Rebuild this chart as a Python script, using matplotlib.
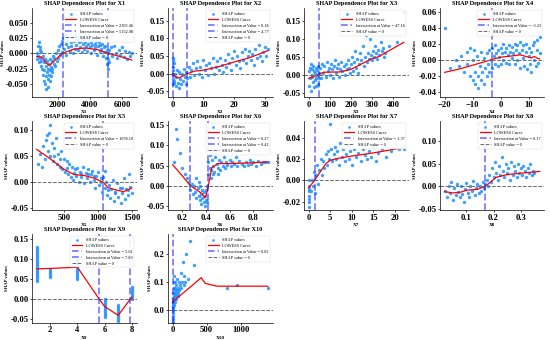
import numpy as np
import matplotlib
matplotlib.use("Agg")
import matplotlib.pyplot as plt
from matplotlib.ticker import FormatStrFormatter

plt.rcParams['font.family'] = ['Liberation Serif', 'DejaVu Serif']

# ---- data: (feature value, SHAP value) ----
x1_pts = [(720,0.0),(750,-0.01),(780,0.012),(800,-0.004),(830,0.018),(860,-0.015),(880,0.005),(900,-0.008),
          (930,0.01),(950,-0.02),(980,0.003),(1000,-0.012),(1050,-0.025),(1080,-0.005),(1100,-0.035),(1130,-0.015),
          (1150,-0.045),(1180,-0.028),(1200,-0.01),(1230,-0.05),(1250,-0.038),(1280,-0.02),(1300,-0.058),(1330,-0.03),
          (1350,-0.012),(1380,-0.042),(1400,-0.025),(1430,-0.055),(1450,-0.035),(1480,-0.018),(1500,-0.045),(1530,-0.028),
          (1550,-0.01),(1580,-0.038),(1600,-0.022),(1630,-0.03),(1650,-0.012),(1680,-0.025),(1700,-0.005),(1750,-0.018),
          (1800,-0.008),(1850,-0.02),(1900,0.0),(1950,-0.012),(2000,0.005),(2050,-0.008),(2100,0.012),(2150,-0.003),
          (2200,0.015),(2250,0.002),(2300,0.02),(2350,0.025),(2400,0.008),(2450,0.03),(2500,0.015),(2550,-0.002),
          (2600,0.022),(2650,0.01),(2700,0.028),(2750,0.004),(2800,0.018),(2850,0.012),(2900,0.025),(2950,0.0),
          (3000,0.02),(3050,0.008),(3100,0.03),(3150,0.014),(3200,0.022),(3250,0.005),(3300,0.018),(3350,0.026),
          (3400,0.01),(3450,0.02),(3500,0.002),(3550,0.015),(3600,0.024),(3650,0.008),(3700,0.018),(3750,0.012),
          (3800,0.028),(3850,0.004),(3900,0.016),(3950,0.022),(4000,0.01),(4050,0.018),(4100,0.0),(4150,0.014),
          (4200,0.024),(4250,0.006),(4300,0.016),(4350,0.01),(4400,0.02),(4450,-0.002),(4500,0.012),(4550,0.018),
          (4600,0.004),(4650,0.014),(4700,0.008),(4750,0.016),(4800,-0.004),(4850,0.01),(4900,0.002),(4950,0.012),
          (5000,-0.008),(5050,0.005),(5080,-0.018),(5100,-0.025),(5120,-0.01),(5150,0.0),(5180,-0.015),(5200,0.006),
          (5300,0.01),(5400,-0.004),(5500,0.012),(5600,0.0),(5700,-0.008),(5800,0.006),(5900,-0.002),(6000,0.01),
          (6100,-0.006),(6200,0.004),(6300,-0.01),(6400,0.002),(6500,-0.005),(6600,0.0)]
x1_curve = [(700,-0.005),(1000,-0.006),(1300,-0.016),(1500,-0.02),(1800,-0.012),(2300,0.0),(3000,0.007),
            (3700,0.009),(4500,0.006),(5150,0.0),(6000,-0.006),(6600,-0.011)]
x1_cross = [2303.46, 5152.98]

x2_pts = [(0.1,-0.03),(0.15,0.04),(0.2,-0.015),(0.2,0.02),(0.25,0.0),(0.3,0.03),(0.1,0.045),(0.3,-0.025),
          (0.2,0.01),(0.15,-0.005),(0.6,-0.02),(0.8,0.0),(1.0,-0.035),(1.2,-0.01),(1.5,0.01),(1.7,-0.025),
          (2.0,-0.04),(2.2,0.005),(2.5,-0.015),(2.8,-0.03),(3.0,0.0),(3.3,-0.02),(3.6,0.012),(3.9,-0.01),
          (4.2,-0.028),(4.5,0.005),(4.8,-0.012),(5.2,0.02),(5.5,-0.01),(6.0,0.01),(6.5,0.03),(7.0,-0.005),
          (7.5,0.015),(8.0,0.035),(8.5,0.0),(9.0,0.02),(9.5,-0.01),(10,0.04),(10.5,0.01),(11,0.025),
          (11.5,-0.005),(12,0.03),(12.5,0.015),(13,0.045),(13.5,0.0),(14,0.02),(14.5,0.035),(15,0.01),
          (15.5,0.045),(16,0.025),(16.5,0.005),(17,0.04),(17.5,0.02),(18,0.055),(18.5,0.03),(19,0.01),
          (19.5,0.045),(20,0.065),(20.5,0.025),(21,0.05),(21.5,0.035),(22,0.015),(22.5,0.06),(23,0.04),
          (23.5,0.07),(24,0.03),(24.5,0.05),(25,0.065),(25.5,0.04),(26,0.055),(26.5,0.025),(27,0.07),
          (27.5,0.045),(28,0.08),(28.5,0.05),(29,0.035),(29.5,0.06),(30,0.075),(30.5,0.05),(31,0.07)]
x2_curve = [(0,0.0),(0.18,0.0),(1,-0.01),(2,-0.012),(3,-0.008),(4.77,0.0),(7,0.007),(10,0.01),
            (15,0.02),(20,0.033),(25,0.045),(31,0.065)]
x2_cross = [0.18, 4.77]

x3_pts = [(2,-0.03),(5,0.02),(8,-0.01),(10,0.03),(12,-0.045),(15,0.0),(18,0.015),(20,-0.02),(22,0.025),
          (25,-0.035),(28,0.005),(30,-0.015),(33,0.02),(35,-0.03),(38,0.0),(40,0.012),(42,-0.025),(45,0.025),
          (48,-0.01),(50,0.005),(3,0.01),(14,-0.005),(26,0.01),(36,-0.008),(55,0.02),(60,-0.01),(65,0.03),
          (70,0.005),(75,0.025),(80,-0.005),(85,0.035),(90,0.01),(95,0.02),(100,0.0),(105,0.03),(110,0.015),
          (115,-0.01),(120,0.025),(125,0.04),(130,0.005),(135,0.02),(140,0.03),(145,-0.005),(150,0.015),
          (155,0.035),(160,0.01),(165,0.025),(170,0.0),(175,0.03),(180,0.015),(185,0.04),(190,0.02),
          (195,0.005),(200,0.03),(205,0.05),(210,0.01),(215,0.035),(220,0.065),(225,0.02),(230,0.045),
          (235,0.005),(240,0.03),(245,0.06),(250,0.04),(255,0.08),(260,0.025),(265,0.05),(270,0.11),
          (275,0.035),(280,0.06),(285,0.045),(290,0.1),(295,0.055),(300,0.04),(305,0.065),(310,0.05),
          (315,0.08),(320,0.06),(325,0.045),(330,0.07),(335,0.055),(340,0.09),(345,0.065),(350,0.075),
          (355,0.05),(360,0.06),(380,0.08),(420,0.09),(450,0.175)]
x3_curve = [(0,-0.01),(47.16,0.0),(70,0.007),(150,0.008),(200,0.015),(250,0.03),(300,0.045),
            (330,0.05),(450,0.09)]
x3_cross = [47.16]

x4_pts = [(-20,0.04),(-18,-0.01),(-16,0.0),(-15,-0.008),(-14,0.005),(-13,-0.015),(-12,0.01),(-12,-0.005),
          (-11,0.015),(-11,-0.02),(-10,0.0),(-10,-0.025),(-9.5,0.012),(-9,-0.015),(-9,-0.03),(-8.5,0.005),
          (-8,-0.02),(-8,-0.035),(-7.5,-0.008),(-7,0.01),(-7,-0.025),(-6.5,-0.015),(-6,0.002),(-6,-0.03),
          (-5.5,-0.01),(-5,0.008),(-5,-0.02),(-4.5,-0.005),(-4,0.012),(-4,-0.015),(-3.5,0.0),(-3,-0.01),
          (-3,0.015),(-2.5,0.005),(-2,-0.005),(-2,0.018),(-1.5,0.008),(-1,-0.008),(-1,0.012),(-0.5,0.003),
          (0,0.015),(0,-0.005),(0.5,0.008),(1,0.02),(1,0.0),(1.5,0.01),(2,-0.004),(2,0.015),(2.5,0.006),
          (3,0.018),(3,-0.006),(3.5,0.01),(4,0.002),(4,0.016),(4.5,0.008),(5,0.02),(5,-0.005),(5.5,0.012),
          (6,0.0),(6,0.018),(6.5,0.008),(7,0.022),(7,-0.01),(7.5,0.012),(8,0.002),(8,0.018),(8.5,-0.008),
          (9,0.01),(9,0.02),(9.5,-0.012),(10,0.005),(10,0.015),(10.5,-0.005),(11,0.01),(11,-0.015),
          (11.5,0.018),(12,0.0),(12,0.022),(12.5,-0.008),(13,0.012),(13,0.025),(13.5,-0.004),(14,0.028),(14,0.008)]
x4_curve = [(-20,-0.016),(-15,-0.012),(-10,-0.007),(-5,-0.002),(-3.23,0.0),(0,0.003),(5,0.005),(7,0.006),
            (9,0.004),(11,0.002),(12,0.004),(13,0.002),(14,0.001)]
x4_cross = [-3.23]

x5_pts = [(120,0.035),(150,0.055),(180,0.03),(200,0.07),(220,0.045),(240,0.08),(260,0.06),(280,0.095),
          (300,0.11),(300,0.05),(320,0.075),(340,0.04),(360,0.065),(380,0.085),(400,0.035),(420,0.055),
          (440,0.03),(460,0.06),(480,0.025),(500,0.045),(520,0.02),(540,0.04),(560,0.015),(580,0.035),
          (600,0.01),(620,0.03),(640,0.005),(660,0.025),(680,0.012),(700,0.028),(720,0.0),(740,0.02),
          (760,0.01),(780,0.03),(800,-0.002),(820,0.018),(840,0.008),(860,0.025),(880,0.0),(900,0.015),
          (920,0.022),(940,0.005),(960,-0.01),(980,0.012),(1000,0.02),(1020,-0.005),(1040,0.008),(1060,-0.018),
          (1080,0.01),(1100,-0.01),(1120,0.0),(1140,-0.025),(1160,-0.005),(1180,-0.03),(1200,-0.012),(1220,0.005),
          (1240,-0.035),(1260,-0.018),(1280,-0.002),(1300,-0.028),(1320,-0.01),(1340,-0.04),(1360,-0.02),
          (1380,0.008),(1400,-0.032),(1420,-0.012),(1440,-0.025),(1460,0.015),(1480,-0.008),(1500,-0.02),
          (250,0.09),(350,0.05),(450,0.045),(550,0.028),(650,0.018),(750,0.015),(850,0.015),(950,0.012),
          (1050,0.0),(1150,-0.015),(1250,-0.02),(1350,-0.01),(1450,-0.015),(1110,0.022)]
x5_curve = [(100,0.063),(300,0.045),(500,0.025),(650,0.015),(800,0.013),(950,0.008),(1078.1,0.0),
            (1150,-0.01),(1250,-0.014),(1380,-0.018),(1500,-0.011)]
x5_cross = [1078.10]

x6_pts = [(0.13,0.06),(0.15,0.14),(0.16,0.115),(0.18,0.08),(0.2,0.045),(0.22,0.03),(0.24,0.02),
          (0.26,0.01),(0.27,-0.01),(0.28,0.005),(0.29,-0.02),(0.3,0.0),(0.31,-0.015),(0.32,0.02),(0.32,-0.03),
          (0.33,-0.005),(0.34,-0.025),(0.34,0.01),(0.35,-0.035),(0.35,0.0),(0.36,-0.02),(0.36,-0.045),
          (0.37,-0.01),(0.37,-0.03),(0.38,-0.04),(0.38,-0.015),(0.39,-0.05),(0.39,-0.025),(0.4,-0.035),
          (0.4,-0.01),(0.41,-0.04),(0.41,0.0),(0.42,0.03),(0.42,0.06),(0.43,0.045),(0.43,0.075),(0.44,0.04),
          (0.45,0.065),(0.46,0.05),(0.47,0.035),(0.48,0.07),(0.49,0.055),(0.5,0.045),(0.51,0.065),(0.52,0.04),
          (0.53,0.06),(0.54,0.05),(0.55,0.07),(0.56,0.045),(0.57,0.058),(0.58,0.052),(0.6,0.065),(0.61,0.048),
          (0.62,0.06),(0.64,0.055),(0.65,0.07),(0.66,0.05),(0.68,0.062),(0.7,0.055),(0.72,0.048),(0.74,0.06),
          (0.75,0.052),(0.77,0.065),(0.78,0.055),(0.8,0.058),(0.82,0.05),(0.84,0.062),(0.86,0.055),(0.88,0.06),
          (0.9,0.058),(0.92,0.06),(0.46,0.03),(0.5,0.03),(0.44,0.02)]
x6_curve = [(0.12,0.052),(0.2,0.025),(0.27,0.0),(0.33,-0.012),(0.37,-0.02),(0.39,-0.03),(0.405,-0.02),
            (0.42,0.0),(0.45,0.045),(0.5,0.055),(0.6,0.055),(0.7,0.056),(0.8,0.057),(0.92,0.059)]
x6_cross = [0.27, 0.42]

x7_pts = [(0,-0.025),(0,-0.02),(0,-0.015),(0,-0.01),(0,-0.005),(0,0.0),(0.05,-0.018),(0.05,-0.008),
          (0.5,-0.01),(0.7,0.0),(1.0,-0.005),(1.2,0.008),(1.5,-0.012),(1.8,0.005),(2.0,0.015),(2.2,-0.003),
          (2.5,0.01),(2.8,0.02),(3.0,0.005),(3.3,0.018),(3.6,0.012),(3.9,0.025),(4.2,0.015),(4.5,0.028),
          (4.8,0.02),(5.0,0.053),(5.2,0.03),(5.5,0.018),(5.8,0.025),(6.0,0.032),(6.3,0.02),(6.6,0.028),
          (7.0,0.015),(7.3,0.035),(7.6,0.022),(8.0,0.03),(8.3,0.018),(8.6,0.025),(9.0,0.033),(9.3,0.02),
          (9.6,0.028),(10,0.015),(10.5,0.03),(11,0.022),(11.5,0.026),(12,0.018),(12.5,0.03),(13,0.024),
          (13.5,0.02),(14,0.028),(14.5,0.022),(15,0.032),(15.5,0.018),(16,0.026),(17,0.03),(18,0.022),
          (19,0.028),(20,0.034),(21,0.03),(22,0.03)]
x7_curve = [(0,-0.007),(1.37,0.0),(2,0.004),(3,0.01),(4,0.016),(5,0.019),(7,0.021),(10,0.023),
            (15,0.026),(22,0.031)]
x7_cross = [1.37]

x8_pts = [(0.02,-0.01),(0.03,-0.025),(0.035,0.0),(0.04,-0.015),(0.045,0.01),(0.05,-0.03),(0.055,-0.005),
          (0.06,-0.02),(0.065,0.005),(0.07,-0.012),(0.075,-0.025),(0.08,0.0),(0.085,-0.018),(0.09,-0.035),
          (0.095,-0.006),(0.1,0.008),(0.105,-0.015),(0.11,-0.025),(0.115,0.0),(0.12,-0.01),(0.125,0.012),
          (0.13,-0.02),(0.135,-0.004),(0.14,0.006),(0.145,-0.015),(0.15,0.0),(0.155,-0.01),(0.16,0.01),
          (0.165,-0.005),(0.17,0.005),(0.175,0.015),(0.18,0.0),(0.185,0.025),(0.19,0.01),(0.195,0.04),
          (0.2,0.02),(0.205,0.055),(0.21,0.03),(0.215,0.015),(0.22,0.045),(0.225,0.025),(0.23,0.065),
          (0.235,0.035),(0.24,0.02),(0.245,0.05),(0.25,0.03),(0.255,0.04),(0.26,0.015),(0.265,0.055),
          (0.27,0.025),(0.275,0.045),(0.28,0.035),(0.285,0.02),(0.29,0.05),(0.295,0.03),(0.3,0.04),
          (0.305,0.025),(0.31,0.045),(0.315,0.035),(0.32,0.02),(0.325,0.04),(0.33,0.03),(0.335,0.05),
          (0.34,0.025),(0.345,0.035),(0.35,0.03)]
x8_curve = [(0.02,-0.012),(0.05,-0.015),(0.08,-0.013),(0.1,-0.009),(0.14,-0.007),(0.17,0.0),(0.19,0.01),
            (0.21,0.02),(0.25,0.026),(0.3,0.029),(0.37,0.033)]
x8_cross = [0.17]

x9_levels = [1, 2, 4, 6, 7, 8]
x9_values = [[0.045,0.05,0.055,0.06,0.065,0.07,0.075,0.08,0.085,0.09,0.095,0.1,0.105,0.11,0.115,0.12,0.125,0.13],
             [0.055,0.06,0.065,0.07,0.075],
             [0.05,0.055,0.06,0.065,0.07,0.075,0.08,0.085,0.09,0.095,0.1],
             [-0.045,-0.04,-0.035,-0.03,-0.025,-0.02,-0.015,-0.01,-0.005,0.0],
             [-0.055,-0.05,-0.045,-0.04,-0.035,-0.03,-0.025,-0.02,-0.015],
             [0.0,0.005,0.01,0.015,0.02,0.025,0.03]]
x9_curve = [(1,0.075),(2,0.076),(4,0.079),(5.61,0.0),(6,-0.018),(7,-0.04),(7.89,0.0),(8,0.005)]
x9_cross = [5.61, 7.89]

x10_pts = [(2,-0.04),(3,-0.02),(5,0.0),(5,0.02),(8,0.04),(10,0.01),(10,0.06),(12,0.03),(15,0.08),
           (15,0.05),(18,0.02),(20,0.1),(20,0.04),(25,0.06),(25,0.12),(30,0.03),(30,0.08),(35,0.05),
           (40,0.07),(40,0.1),(45,0.04),(50,0.06),(55,0.09),(60,0.05),(65,0.07),(70,0.11),(75,0.06),
           (80,0.08),(85,0.05),(90,0.1),(100,0.07),(110,0.09),(120,0.13),(130,0.08),(140,0.1),(150,0.17),
           (160,0.09),(170,0.12),(180,0.1),(200,0.2),(220,0.11),(250,0.245),(320,0.16),(5,-0.01),(8,0.01),
           (0,-0.03),(0,0.0),(1,0.03),(800,0.08),(950,0.09),(1400,0.08)]
x10_curve = [(0,0.028),(50,0.04),(200,0.07),(300,0.09),(420,0.115),(480,0.095),(650,0.085),
             (1000,0.085),(1400,0.085)]
x10_cross = [0.03]

x9_pts = [(lv, v) for lv, vals in zip(x9_levels, x9_values) for v in vals]

# tick values as printed on each panel
x1_ticks = ([2000, 4000, 6000], [-0.05, -0.025, 0.0, 0.025, 0.05], '%.3f')
x2_ticks = ([0, 10, 20, 30], [-0.05, 0.0, 0.05, 0.1, 0.15], '%.2f')
x3_ticks = ([0, 100, 200, 300, 400], [-0.05, 0.0, 0.05, 0.1, 0.15], '%.2f')
x4_ticks = ([-20, -10, 0, 10], [-0.04, -0.02, 0.0, 0.02, 0.04, 0.06], '%.2f')
x5_ticks = ([500, 1000, 1500], [-0.05, 0.0, 0.05, 0.1], '%.2f')
x6_ticks = ([0.2, 0.4, 0.6, 0.8], [-0.05, 0.0, 0.05, 0.1, 0.15], '%.2f')
x7_ticks = ([0, 5, 10, 15, 20], [-0.02, 0.0, 0.02, 0.04], '%.2f')
x8_ticks = ([0.1, 0.2, 0.3], [-0.05, 0.0, 0.05, 0.1], '%.2f')
x9_ticks = ([2, 4, 6, 8], [-0.05, 0.0, 0.05, 0.1, 0.15], '%.2f')
x10_ticks = ([0, 500, 1000], [0.0, 0.1, 0.2], '%.1f')

panels = [
    ("X1", x1_pts, x1_curve, x1_cross, x1_ticks, (-0.072, 0.0745)),
    ("X2", x2_pts, x2_curve, x2_cross, x2_ticks, (-0.066, 0.185)),
    ("X3", x3_pts, x3_curve, x3_cross, x3_ticks, (-0.062, 0.185)),
    ("X4", x4_pts, x4_curve, x4_cross, x4_ticks, (-0.047, 0.0645)),
    ("X5", x5_pts, x5_curve, x5_cross, x5_ticks, (-0.053, 0.117)),
    ("X6", x6_pts, x6_curve, x6_cross, x6_ticks, (-0.06, 0.16)),
    ("X7", x7_pts, x7_curve, x7_cross, x7_ticks, (-0.028, 0.056)),
    ("X8", x8_pts, x8_curve, x8_cross, x8_ticks, (-0.053, 0.145)),
    ("X9", x9_pts, x9_curve, x9_cross, x9_ticks, (-0.059, 0.161)),
    ("X10", x10_pts, x10_curve, x10_cross, x10_ticks, (-0.045, 0.269)),
]

fig, axes = plt.subplots(3, 4, figsize=(5.5, 3.4), dpi=100)
fig.subplots_adjust(left=0.058, right=0.99, top=0.976, bottom=0.05, wspace=0.3, hspace=0.27)
axes = axes.ravel()

for ax, (name, pts, curve, cross, ticks, ylim) in zip(axes, panels):
    pts = np.array(pts)
    curve = np.array(curve)
    ax.scatter(pts[:, 0], pts[:, 1], s=6, color='#1E90FF', alpha=0.85, linewidths=0, label='SHAP values')
    ax.plot(curve[:, 0], curve[:, 1], color='red', lw=0.9, label='LOWESS Curve')
    for c in cross:
        ax.axvline(c, color='blue', ls='--', lw=1.3, alpha=0.5, label=f'Intersection at Value = {c:.2f}')
    ax.axhline(0, color='dimgray', ls='--', lw=0.7, label='SHAP value = 0')
    ax.set_xticks(ticks[0])
    ax.set_yticks(ticks[1])
    ax.yaxis.set_major_formatter(FormatStrFormatter(ticks[2]))
    ax.set_ylim(*ylim)
    ax.set_title(f'SHAP Dependence Plot for {name}', fontsize=4.5, fontweight='bold', pad=2)
    ax.set_xlabel(name, fontsize=3.8, fontweight='bold', labelpad=1)
    ax.set_ylabel('SHAP values', fontsize=3.3, fontweight='bold', labelpad=1)
    ax.tick_params(labelsize=6.2, length=1.5, width=0.5, pad=1)
    for lab in ax.get_xticklabels() + ax.get_yticklabels():
        lab.set_fontweight('bold')
    ax.spines['top'].set_visible(False)
    ax.spines['right'].set_visible(False)
    for sp in ('left', 'bottom'):
        ax.spines[sp].set_linewidth(0.5)
    leg = ax.legend(loc='upper right', fontsize=3.1, markerscale=0.8, handlelength=2.5,
                    borderpad=0.4, labelspacing=0.45, framealpha=0.9, edgecolor='lightgray')
    leg.get_frame().set_linewidth(0.3)

for ax in axes[len(panels):]:
    ax.axis('off')

fig.savefig('out.png', dpi=100)
